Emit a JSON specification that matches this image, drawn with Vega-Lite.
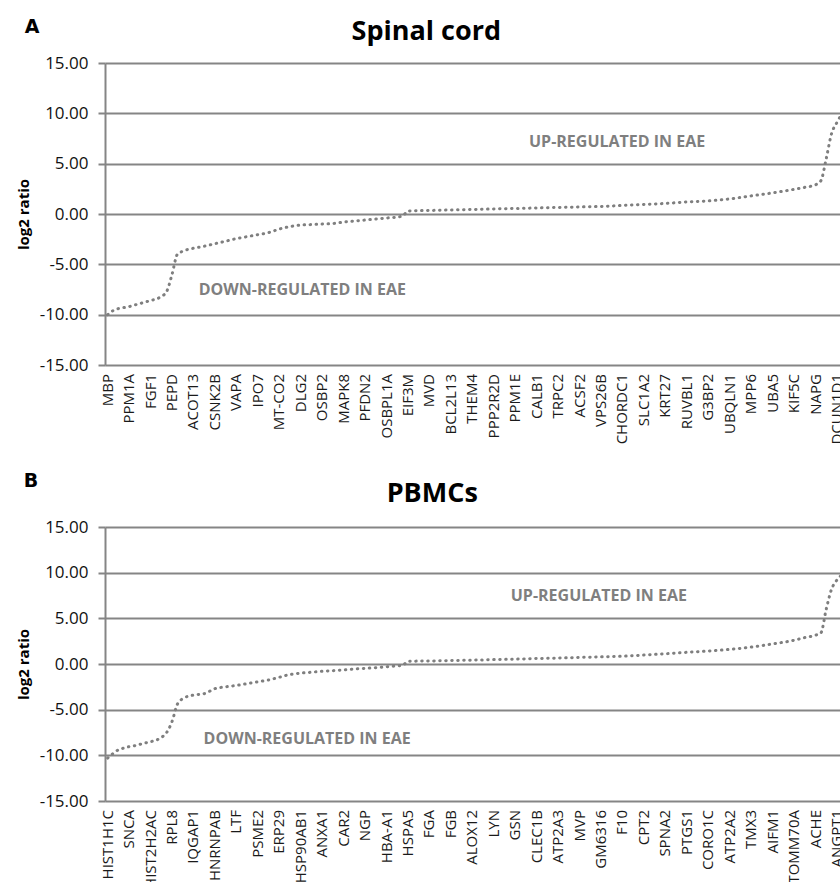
{
  "$schema": "https://vega.github.io/schema/vega-lite/v6.json",
  "background": "white",
  "padding": {"left": 16, "top": 17, "right": 0, "bottom": 0},
  "spacing": 27,
  "config": {
    "font": "Open Sans",
    "view": {"stroke": null},
    "locale": {"number": {"decimal": ".", "thousands": ",", "grouping": [3], "currency": ["$", ""], "minus": "-"}},
    "title": {"fontSize": 27, "fontWeight": "bold", "color": "#000000", "anchor": "middle", "frame": "bounds"},
    "axisY": {
      "values": [-15, -10, -5, 0, 5, 10, 15],
      "format": ".2f",
      "grid": true, "gridColor": "#858585", "gridWidth": 2,
      "domain": true, "domainColor": "#858585", "domainWidth": 2,
      "ticks": true, "tickSize": 7, "tickColor": "#858585", "tickWidth": 2,
      "labelFontSize": 17, "labelColor": "#111111", "labelPadding": 10,
      "titleFontSize": 15, "titleFontWeight": "bold", "titleColor": "#000000", "titlePadding": 8
    }
  },
  "datasets": {
    "spinal": [
      {"idx": 0, "log2": -10.0, "gene": "MBP"},
      {"idx": 1, "log2": -9.6},
      {"idx": 2, "log2": -9.4},
      {"idx": 3, "log2": -9.3},
      {"idx": 4, "log2": -9.2, "gene": "PPM1A"},
      {"idx": 5, "log2": -9.05},
      {"idx": 6, "log2": -8.9},
      {"idx": 7, "log2": -8.75},
      {"idx": 8, "log2": -8.6, "gene": "FGF1"},
      {"idx": 9, "log2": -8.45},
      {"idx": 10, "log2": -8.2},
      {"idx": 11, "log2": -7.7},
      {"idx": 12, "log2": -6.0, "gene": "PEPD"},
      {"idx": 13, "log2": -4.0},
      {"idx": 14, "log2": -3.7},
      {"idx": 16, "log2": -3.4, "gene": "ACOT13"},
      {"idx": 18, "log2": -3.2},
      {"idx": 20, "log2": -2.95, "gene": "CSNK2B"},
      {"idx": 22, "log2": -2.7},
      {"idx": 24, "log2": -2.45, "gene": "VAPA"},
      {"idx": 26, "log2": -2.25},
      {"idx": 28, "log2": -2.05, "gene": "IPO7"},
      {"idx": 30, "log2": -1.85},
      {"idx": 32, "log2": -1.5, "gene": "MT-CO2"},
      {"idx": 34, "log2": -1.25},
      {"idx": 36, "log2": -1.1, "gene": "DLG2"},
      {"idx": 38, "log2": -1.05},
      {"idx": 40, "log2": -1.0, "gene": "OSBP2"},
      {"idx": 42, "log2": -0.95},
      {"idx": 44, "log2": -0.8, "gene": "MAPK8"},
      {"idx": 46, "log2": -0.7},
      {"idx": 48, "log2": -0.6, "gene": "PFDN2"},
      {"idx": 50, "log2": -0.5},
      {"idx": 52, "log2": -0.4, "gene": "OSBPL1A"},
      {"idx": 54, "log2": -0.3},
      {"idx": 55, "log2": -0.2},
      {"idx": 56, "log2": 0.3, "gene": "EIF3M"},
      {"idx": 60, "log2": 0.35, "gene": "MVD"},
      {"idx": 64, "log2": 0.4, "gene": "BCL2L13"},
      {"idx": 68, "log2": 0.45, "gene": "THEM4"},
      {"idx": 72, "log2": 0.5, "gene": "PPP2R2D"},
      {"idx": 76, "log2": 0.55, "gene": "PPM1E"},
      {"idx": 80, "log2": 0.6, "gene": "CALB1"},
      {"idx": 84, "log2": 0.65, "gene": "TRPC2"},
      {"idx": 88, "log2": 0.7, "gene": "ACSF2"},
      {"idx": 92, "log2": 0.75, "gene": "VPS26B"},
      {"idx": 96, "log2": 0.85, "gene": "CHORDC1"},
      {"idx": 100, "log2": 0.95, "gene": "SLC1A2"},
      {"idx": 104, "log2": 1.05, "gene": "KRT27"},
      {"idx": 108, "log2": 1.2, "gene": "RUVBL1"},
      {"idx": 112, "log2": 1.3, "gene": "G3BP2"},
      {"idx": 116, "log2": 1.5, "gene": "UBQLN1"},
      {"idx": 120, "log2": 1.8, "gene": "MPP6"},
      {"idx": 124, "log2": 2.1, "gene": "UBA5"},
      {"idx": 128, "log2": 2.45, "gene": "KIF5C"},
      {"idx": 130, "log2": 2.65},
      {"idx": 132, "log2": 2.9, "gene": "NAPG"},
      {"idx": 133, "log2": 3.3},
      {"idx": 134, "log2": 5.5},
      {"idx": 135, "log2": 8.0},
      {"idx": 136, "log2": 9.1, "gene": "DCUN1D1"},
      {"idx": 137, "log2": 10.0}
    ],
    "pbmc": [
      {"idx": 0, "log2": -10.3, "gene": "HIST1H1C"},
      {"idx": 1, "log2": -9.8},
      {"idx": 2, "log2": -9.4},
      {"idx": 3, "log2": -9.2},
      {"idx": 4, "log2": -9.05, "gene": "SNCA"},
      {"idx": 5, "log2": -8.95},
      {"idx": 6, "log2": -8.8},
      {"idx": 7, "log2": -8.65},
      {"idx": 8, "log2": -8.5, "gene": "HIST2H2AC"},
      {"idx": 9, "log2": -8.35},
      {"idx": 10, "log2": -8.05},
      {"idx": 11, "log2": -7.5},
      {"idx": 12, "log2": -6.3, "gene": "RPL8"},
      {"idx": 13, "log2": -4.4},
      {"idx": 14, "log2": -3.8},
      {"idx": 16, "log2": -3.4, "gene": "IQGAP1"},
      {"idx": 18, "log2": -3.25},
      {"idx": 20, "log2": -2.7, "gene": "HNRNPAB"},
      {"idx": 22, "log2": -2.5},
      {"idx": 24, "log2": -2.35, "gene": "LTF"},
      {"idx": 26, "log2": -2.15},
      {"idx": 28, "log2": -1.95, "gene": "PSME2"},
      {"idx": 30, "log2": -1.75},
      {"idx": 32, "log2": -1.45, "gene": "ERP29"},
      {"idx": 34, "log2": -1.15},
      {"idx": 36, "log2": -1.0, "gene": "HSP90AB1"},
      {"idx": 38, "log2": -0.9},
      {"idx": 40, "log2": -0.8, "gene": "ANXA1"},
      {"idx": 42, "log2": -0.73},
      {"idx": 44, "log2": -0.65, "gene": "CAR2"},
      {"idx": 46, "log2": -0.55},
      {"idx": 48, "log2": -0.48, "gene": "NGP"},
      {"idx": 50, "log2": -0.4},
      {"idx": 52, "log2": -0.3, "gene": "HBA-A1"},
      {"idx": 54, "log2": -0.2},
      {"idx": 55, "log2": -0.15},
      {"idx": 56, "log2": 0.3, "gene": "HSPA5"},
      {"idx": 60, "log2": 0.33, "gene": "FGA"},
      {"idx": 64, "log2": 0.38, "gene": "FGB"},
      {"idx": 68, "log2": 0.42, "gene": "ALOX12"},
      {"idx": 72, "log2": 0.48, "gene": "LYN"},
      {"idx": 76, "log2": 0.53, "gene": "GSN"},
      {"idx": 80, "log2": 0.6, "gene": "CLEC1B"},
      {"idx": 84, "log2": 0.65, "gene": "ATP2A3"},
      {"idx": 88, "log2": 0.72, "gene": "MVP"},
      {"idx": 92, "log2": 0.78, "gene": "GM6316"},
      {"idx": 96, "log2": 0.85, "gene": "F10"},
      {"idx": 100, "log2": 0.98, "gene": "CPT2"},
      {"idx": 104, "log2": 1.12, "gene": "SPNA2"},
      {"idx": 108, "log2": 1.28, "gene": "PTGS1"},
      {"idx": 112, "log2": 1.42, "gene": "CORO1C"},
      {"idx": 116, "log2": 1.6, "gene": "ATP2A2"},
      {"idx": 120, "log2": 1.85, "gene": "TMX3"},
      {"idx": 124, "log2": 2.2, "gene": "AIFM1"},
      {"idx": 128, "log2": 2.6, "gene": "TOMM70A"},
      {"idx": 130, "log2": 2.9},
      {"idx": 132, "log2": 3.15, "gene": "ACHE"},
      {"idx": 133, "log2": 3.4},
      {"idx": 134, "log2": 6.0},
      {"idx": 135, "log2": 8.2},
      {"idx": 136, "log2": 9.2, "gene": "ANGPT1"},
      {"idx": 137, "log2": 9.8}
    ]
  },
  "vconcat": [
    {
      "title": {"text": "Spinal cord", "offset": -28, "dx": -6},
      "width": 740,
      "height": 302,
      "layer": [
        {
          "data": {"name": "spinal"},
          "mark": {"type": "line", "color": "#7f7f7f", "strokeWidth": 3, "strokeCap": "round", "strokeDash": [0.5, 5.5], "interpolate": "monotone"},
          "encoding": {
            "x": {"field": "idx", "type": "quantitative", "scale": {"domain": [-0.5, 137.5], "nice": false, "zero": false}, "axis": null},
            "y": {"field": "log2", "type": "quantitative", "scale": {"domain": [-15, 15], "nice": false, "zero": false}, "axis": {"title": "log2 ratio"}}
          }
        },
        {
          "data": {"name": "spinal"},
          "transform": [{"filter": "isValid(datum.gene)"}],
          "mark": {"type": "text", "angle": 270, "align": "right", "baseline": "middle", "dx": -9, "fontSize": 15, "color": "#1a1a1a"},
          "encoding": {
            "x": {"field": "idx", "type": "quantitative"},
            "y": {"datum": -15},
            "text": {"field": "gene"}
          }
        },
        {
          "data": {"values": [
            {"note": "UP-REGULATED IN EAE", "idx": 95, "log2": 7.2},
            {"note": "DOWN-REGULATED IN EAE", "idx": 36.3, "log2": -7.5}
          ]},
          "mark": {"type": "text", "fontSize": 16, "fontWeight": "bold", "color": "#7f7f7f", "align": "center", "baseline": "middle"},
          "encoding": {
            "x": {"field": "idx", "type": "quantitative"},
            "y": {"field": "log2", "type": "quantitative"},
            "text": {"field": "note"}
          }
        },
        {
          "data": {"values": [{"panel": "A", "idx": -14.1, "log2": 18}]},
          "mark": {"type": "text", "font": "DejaVu Sans", "fontSize": 19, "fontWeight": "bold", "color": "#000000", "align": "center", "baseline": "alphabetic"},
          "encoding": {
            "x": {"field": "idx", "type": "quantitative"},
            "y": {"field": "log2", "type": "quantitative"},
            "text": {"field": "panel"}
          }
        }
      ]
    },
    {
      "title": {"text": "PBMCs", "offset": -35.5},
      "width": 740,
      "height": 274,
      "layer": [
        {
          "data": {"name": "pbmc"},
          "mark": {"type": "line", "color": "#7f7f7f", "strokeWidth": 3, "strokeCap": "round", "strokeDash": [0.5, 5.5], "interpolate": "monotone"},
          "encoding": {
            "x": {"field": "idx", "type": "quantitative", "scale": {"domain": [-0.5, 137.5], "nice": false, "zero": false}, "axis": null},
            "y": {"field": "log2", "type": "quantitative", "scale": {"domain": [-15, 15], "nice": false, "zero": false}, "axis": {"title": "log2 ratio"}}
          }
        },
        {
          "data": {"name": "pbmc"},
          "transform": [{"filter": "isValid(datum.gene)"}],
          "mark": {"type": "text", "angle": 270, "align": "right", "baseline": "middle", "dx": -9, "fontSize": 15, "color": "#1a1a1a"},
          "encoding": {
            "x": {"field": "idx", "type": "quantitative"},
            "y": {"datum": -15},
            "text": {"field": "gene"}
          }
        },
        {
          "data": {"values": [
            {"note": "UP-REGULATED IN EAE", "idx": 91.6, "log2": 7.4},
            {"note": "DOWN-REGULATED IN EAE", "idx": 37.2, "log2": -8.2}
          ]},
          "mark": {"type": "text", "fontSize": 16, "fontWeight": "bold", "color": "#7f7f7f", "align": "center", "baseline": "middle"},
          "encoding": {
            "x": {"field": "idx", "type": "quantitative"},
            "y": {"field": "log2", "type": "quantitative"},
            "text": {"field": "note"}
          }
        },
        {
          "data": {"values": [{"panel": "B", "idx": -14.3, "log2": 19.35}]},
          "mark": {"type": "text", "font": "DejaVu Sans", "fontSize": 19, "fontWeight": "bold", "color": "#000000", "align": "center", "baseline": "alphabetic"},
          "encoding": {
            "x": {"field": "idx", "type": "quantitative"},
            "y": {"field": "log2", "type": "quantitative"},
            "text": {"field": "panel"}
          }
        }
      ]
    }
  ]
}
